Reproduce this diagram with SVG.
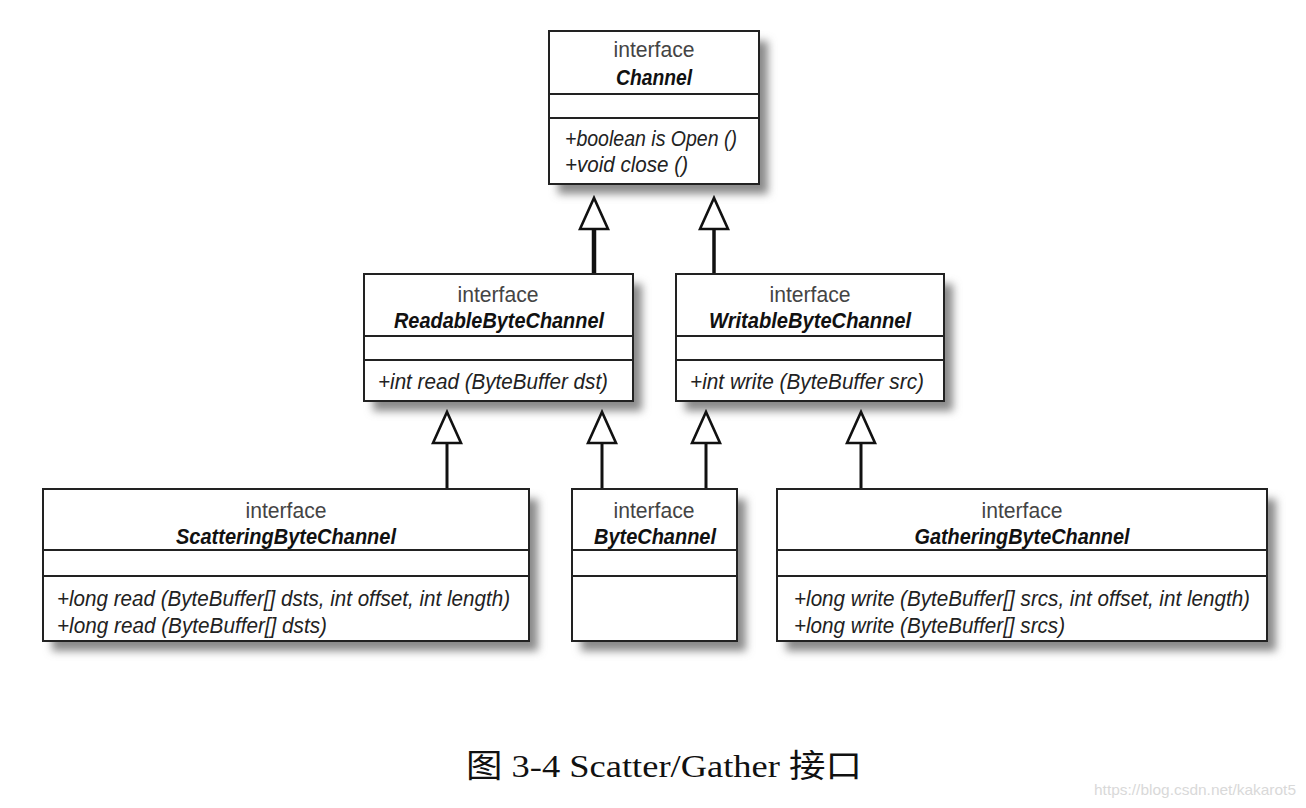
<svg xmlns="http://www.w3.org/2000/svg" width="1306" height="808" viewBox="0 0 1306 808">
<defs>
<filter id="sh" x="-20%" y="-20%" width="140%" height="140%"><feGaussianBlur stdDeviation="4.5"/></filter>
<marker id="tri" markerUnits="userSpaceOnUse" markerWidth="34" markerHeight="32" viewBox="-1 -16 34 32" refX="0" refY="0" orient="auto" overflow="visible">
<path d="M0,-14 L31,0 L0,14 Z" fill="#fff" stroke="#111" stroke-width="2.6" stroke-linejoin="miter"/>
</marker>
</defs>
<style>
.bg{fill:#fff}
.box{fill:#fff;stroke:#222;stroke-width:2}
.sep{stroke:#222;stroke-width:2}
.shadow{fill:#8a8a8a;filter:url(#sh)}
.kw{font-family:"Liberation Sans",Arial,sans-serif;font-size:22px;fill:#444;text-anchor:middle}
.nm{font-family:"Liberation Sans",Arial,sans-serif;font-size:22px;font-style:italic;font-weight:bold;fill:#111;text-anchor:middle}
.op{font-family:"Liberation Sans",Arial,sans-serif;font-size:22px;font-style:italic;fill:#222}
.conn{stroke:#111;fill:none;marker-end:url(#tri)}
.cap{font-family:"Liberation Serif","Noto Sans CJK SC",serif;font-size:32px;fill:#111}
.wm{font-family:"Liberation Sans",Arial,sans-serif;font-size:15px;fill:#d9d9d9}
</style>
<rect class="bg" x="0" y="0" width="1306" height="808"/>

<g id="shadows">
<rect class="shadow" x="558" y="41" width="210" height="153"/>
<rect class="shadow" x="373" y="284" width="269" height="127"/>
<rect class="shadow" x="685" y="284" width="268" height="127"/>
<rect class="shadow" x="52" y="499" width="486" height="152"/>
<rect class="shadow" x="581" y="499" width="165" height="152"/>
<rect class="shadow" x="786" y="499" width="490" height="152"/>
</g>

<g id="connectors">
<path class="conn" d="M594,274 V229" stroke-width="4.5"/>
<path class="conn" d="M714,274 V229" stroke-width="3.5"/>
<path class="conn" d="M447,489 V443" stroke-width="3"/>
<path class="conn" d="M602,489 V443" stroke-width="3"/>
<path class="conn" d="M706,489 V443" stroke-width="3"/>
<path class="conn" d="M861,489 V443" stroke-width="3"/>
</g>

<g id="Channel">
<rect class="box" x="549" y="31" width="210" height="153"/>
<line class="sep" x1="549" y1="94" x2="759" y2="94"/>
<line class="sep" x1="549" y1="118" x2="759" y2="118"/>
<text class="kw" x="654" y="57" textLength="81" lengthAdjust="spacingAndGlyphs">interface</text>
<text class="nm" x="654" y="85" textLength="76" lengthAdjust="spacingAndGlyphs">Channel</text>
<text class="op" x="565" y="146" textLength="172" lengthAdjust="spacingAndGlyphs">+boolean is Open ()</text>
<text class="op" x="565" y="172" textLength="123" lengthAdjust="spacingAndGlyphs">+void close ()</text>
</g>

<g id="ReadableByteChannel">
<rect class="box" x="364" y="274" width="269" height="127"/>
<line class="sep" x1="364" y1="336" x2="633" y2="336"/>
<line class="sep" x1="364" y1="360" x2="633" y2="360"/>
<text class="kw" x="498" y="302" textLength="81" lengthAdjust="spacingAndGlyphs">interface</text>
<text class="nm" x="499" y="328" textLength="210" lengthAdjust="spacingAndGlyphs">ReadableByteChannel</text>
<text class="op" x="378" y="389" textLength="230" lengthAdjust="spacingAndGlyphs">+int read (ByteBuffer dst)</text>
</g>

<g id="WritableByteChannel">
<rect class="box" x="676" y="274" width="268" height="127"/>
<line class="sep" x1="676" y1="336" x2="944" y2="336"/>
<line class="sep" x1="676" y1="360" x2="944" y2="360"/>
<text class="kw" x="810" y="302" textLength="81" lengthAdjust="spacingAndGlyphs">interface</text>
<text class="nm" x="810" y="328" textLength="202" lengthAdjust="spacingAndGlyphs">WritableByteChannel</text>
<text class="op" x="690" y="389" textLength="234" lengthAdjust="spacingAndGlyphs">+int write (ByteBuffer src)</text>
</g>

<g id="ScatteringByteChannel">
<rect class="box" x="43" y="489" width="486" height="152"/>
<line class="sep" x1="43" y1="550" x2="529" y2="550"/>
<line class="sep" x1="43" y1="576" x2="529" y2="576"/>
<text class="kw" x="286" y="518" textLength="81" lengthAdjust="spacingAndGlyphs">interface</text>
<text class="nm" x="286" y="544" textLength="220" lengthAdjust="spacingAndGlyphs">ScatteringByteChannel</text>
<text class="op" x="57" y="606" textLength="453" lengthAdjust="spacingAndGlyphs">+long read (ByteBuffer[] dsts, int offset, int length)</text>
<text class="op" x="57" y="633" textLength="270" lengthAdjust="spacingAndGlyphs">+long read (ByteBuffer[] dsts)</text>
</g>

<g id="ByteChannel">
<rect class="box" x="572" y="489" width="165" height="152"/>
<line class="sep" x1="572" y1="550" x2="737" y2="550"/>
<line class="sep" x1="572" y1="576" x2="737" y2="576"/>
<text class="kw" x="654" y="518" textLength="81" lengthAdjust="spacingAndGlyphs">interface</text>
<text class="nm" x="655" y="544" textLength="122" lengthAdjust="spacingAndGlyphs">ByteChannel</text>
</g>

<g id="GatheringByteChannel">
<rect class="box" x="777" y="489" width="490" height="152"/>
<line class="sep" x1="777" y1="550" x2="1267" y2="550"/>
<line class="sep" x1="777" y1="576" x2="1267" y2="576"/>
<text class="kw" x="1022" y="518" textLength="81" lengthAdjust="spacingAndGlyphs">interface</text>
<text class="nm" x="1022" y="544" textLength="215" lengthAdjust="spacingAndGlyphs">GatheringByteChannel</text>
<text class="op" x="794" y="606" textLength="456" lengthAdjust="spacingAndGlyphs">+long write (ByteBuffer[] srcs, int offset, int length)</text>
<text class="op" x="794" y="633" textLength="271" lengthAdjust="spacingAndGlyphs">+long write (ByteBuffer[] srcs)</text>
</g>

<g id="caption">
<text class="cap" x="466" y="777" textLength="396" lengthAdjust="spacingAndGlyphs">图 3-4 Scatter/Gather 接口</text>
</g>
<g id="watermark">
<text class="wm" x="1094" y="795" textLength="202" lengthAdjust="spacingAndGlyphs">https://blog.csdn.net/kakarot5</text>
</g>
</svg>
